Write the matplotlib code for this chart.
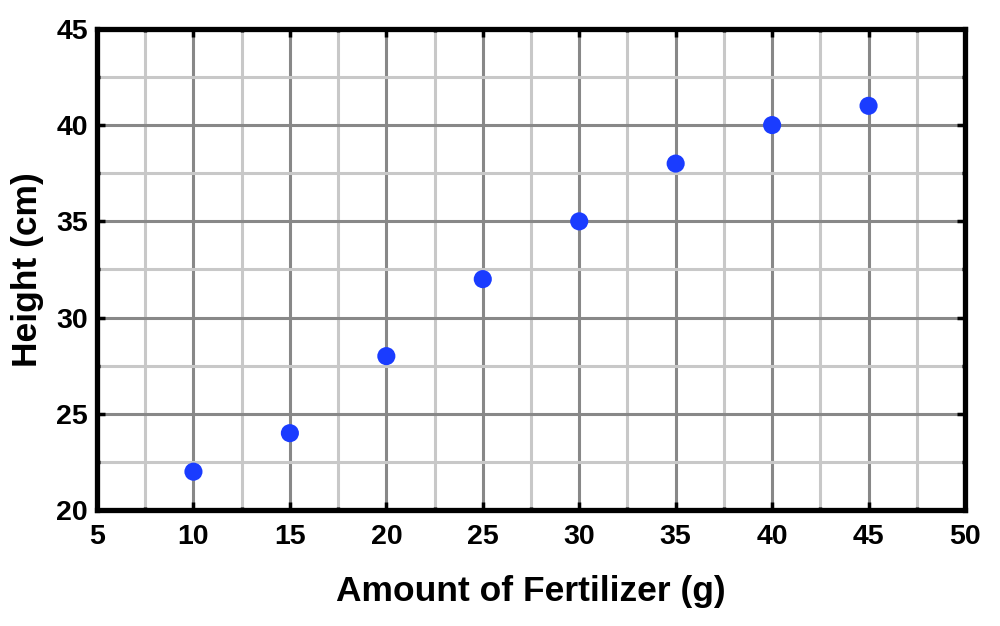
import matplotlib
matplotlib.use('Agg')
import matplotlib.pyplot as plt
from matplotlib.ticker import MultipleLocator

# fertilizer amount (g) vs plant height (cm)
fertilizer = [10, 15, 20, 25, 30, 35, 40, 45]
height = [22, 24, 28, 32, 35, 38, 40, 41]

plt.rcParams['font.family'] = ['Liberation Sans', 'DejaVu Sans']
plt.rcParams['font.weight'] = 'bold'

fig = plt.figure(figsize=(10, 6.26), dpi=100)
ax = fig.add_axes([0.097, 0.185, 0.868, 0.769])

ax.scatter(fertilizer, height, s=170, color='#1a3cff', zorder=3, edgecolors='none')

ax.set_xlim(5, 50)
ax.set_ylim(20, 45)
ax.xaxis.set_major_locator(MultipleLocator(5))
ax.xaxis.set_minor_locator(MultipleLocator(2.5))
ax.yaxis.set_major_locator(MultipleLocator(5))
ax.yaxis.set_minor_locator(MultipleLocator(2.5))

ax.grid(which='major', color='#888888', linewidth=2.2, zorder=1)
ax.grid(which='minor', color='#c8c8c8', linewidth=2.2, zorder=0)
ax.set_axisbelow(True)

for s in ax.spines.values():
    s.set_linewidth(3.8)
    s.set_zorder(4)

ax.tick_params(which='major', direction='in', length=6, width=2.5,
               top=True, right=True, labelsize=20.5)
ax.tick_params(axis='x', which='major', pad=10)
ax.tick_params(axis='y', which='major', pad=6.5)
ax.tick_params(which='minor', direction='in', length=2.5, width=2.5,
               top=True, right=True)

ax.set_xlabel('Amount of Fertilizer (g)', fontsize=25.5, fontweight='bold', labelpad=18)
ax.set_ylabel('Height (cm)', fontsize=25.5, fontweight='bold', labelpad=9)

fig.savefig('out.png', dpi=100)
